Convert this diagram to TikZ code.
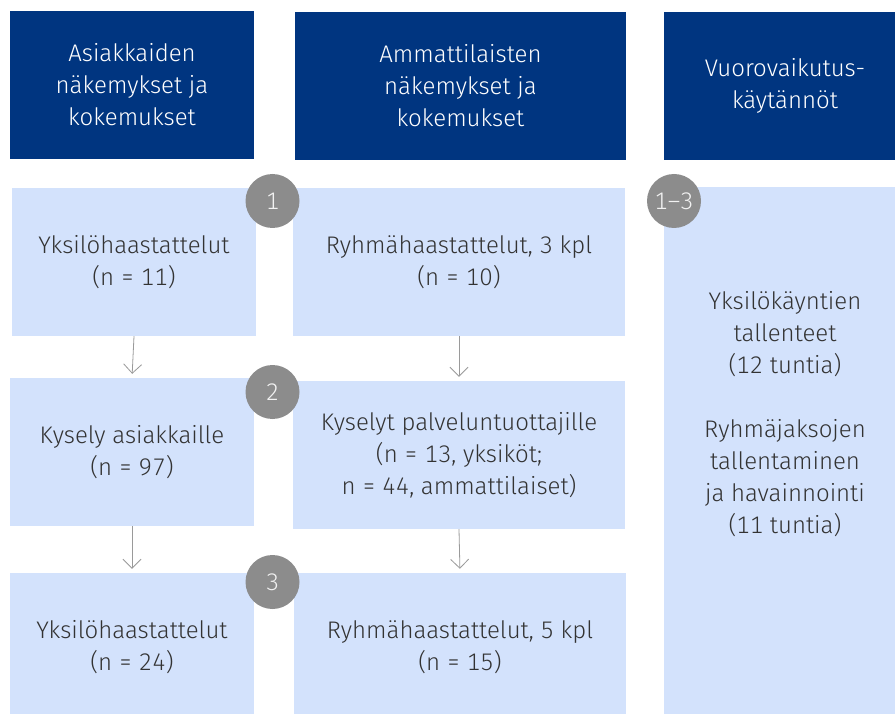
\documentclass[tikz,border=0pt]{standalone}
\usepackage{fontspec}
\setmainfont{Fira Sans Light}[Numbers=Monospaced]
\usetikzlibrary{arrows.meta}
\definecolor{hdr}{HTML}{003580}
\definecolor{lb}{HTML}{D3E2FC}
\definecolor{circ}{HTML}{8C8C8C}
\definecolor{txt}{HTML}{333333}
\definecolor{arr}{HTML}{9A9A9A}
\begin{document}
\begin{tikzpicture}[x=1pt,y=1pt,
  basefont/.style={font=\fontsize{24}{32}\selectfont},
  hdrbox/.style={basefont, fill=hdr, text=white, align=center, inner sep=0pt, minimum height=148pt},
  lbox/.style={basefont, fill=lb, text=txt, align=center, inner sep=0pt, minimum height=148pt},
  numc/.style={circle, fill=circ, text=white!95!black, inner sep=0pt, minimum size=54pt, font=\fontsize{24}{28}\selectfont},
  flow/.style={draw=arr, line width=0.8pt, -{Straight Barb[length=9pt,width=18pt]}, shorten >=4pt}
]
\useasboundingbox (0,0) rectangle (895,-714);
\fill[white] (0,0) rectangle (895,-714);
% headers
\node[hdrbox, minimum width=244pt] (h1) at (132,-85) {Asiakkaiden\\näkemykset ja\\kokemukset};
\node[hdrbox, minimum width=331pt] (h2) at (460.5,-86) {Ammattilaisten\\näkemykset ja\\kokemukset};
\node[hdrbox, minimum width=242pt] (h3) at (785,-86) {Vuorovaikutus-\\käytännöt};
% left column
\node[lbox, minimum width=244pt] (b1) at (134,-262) {Yksilöhaastattelut\\(n = 11)};
\node[lbox, minimum width=244pt] (b2) at (132,-452) {Kysely asiakkaille\\(n = 97)};
\node[lbox, minimum width=244pt] (b3) at (132,-647) {Yksilöhaastattelut\\(n = 24)};
% middle column
\node[lbox, minimum width=332pt] (m1) at (459,-262) {Ryhmähaastattelut, 3 kpl\\(n = 10)};
\node[lbox, minimum width=332pt] (m2) at (459,-455) {Kyselyt palveluntuottajille\\(n = 13, yksiköt;\\n = 44, ammattilaiset)};
\node[lbox, minimum width=332pt] (m3) at (460,-647) {Ryhmähaastattelut, 5 kpl\\(n = 15)};
% right column
\node[lbox, minimum width=242pt, minimum height=560pt] (rbox) at (785,-467) {};
\node[basefont, text=txt, align=center, inner sep=0pt] (rtext) at (785,-414) {Yksilökäyntien\\tallenteet\\(12 tuntia)\\[32pt]Ryhmäjaksojen\\tallentaminen\\ja havainnointi\\(11 tuntia)};
% arrows
\draw[flow] (b1.south) -- (b2.north);
\draw[flow] (b2.south) -- (b3.north);
\draw[flow] (m1.south) -- (m2.north);
\draw[flow] (m2.south) -- (m3.north);
% number circles
\node[numc] (c1) at (272.5,-201) {1};
\node[numc] (c2) at (272.5,-392) {2};
\node[numc] (c3) at (272.5,-582) {3};
\node[numc] (c4) at (674,-201) {1–3};
\end{tikzpicture}
\end{document}
